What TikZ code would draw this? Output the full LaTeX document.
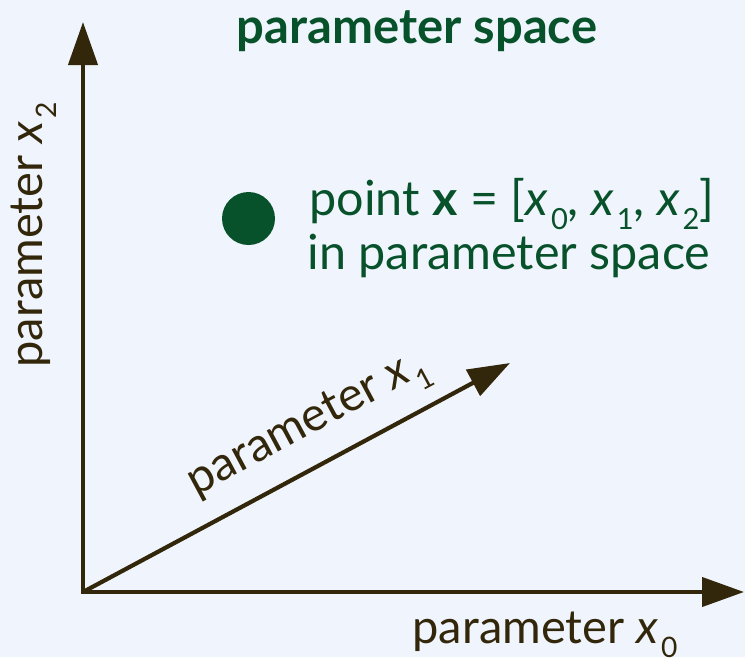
\documentclass[tikz,border=0pt]{standalone}
\usepackage{fontspec}
\setmainfont{Lato}
\usetikzlibrary{arrows.meta}
\definecolor{bg}{HTML}{F0F5FD}
\definecolor{grn}{HTML}{08522B}
\definecolor{brn}{HTML}{33270B}
\newcommand{\vx}[1]{\textit{x}\kern0.06em\raisebox{-0.3em}{\scalebox{0.6}{#1}}}
\begin{document}
\begin{tikzpicture}[x=1pt,y=-1pt,
  axis/.style={draw=brn,line width=4.2pt},
  lbl/.style={text=brn,font=\fontsize{47}{56}\selectfont,inner sep=0pt},
  gtxt/.style={text=grn,font=\fontsize{48.5}{58}\selectfont,inner sep=0pt},
  ttl/.style={text=grn,font=\fontsize{49}{58}\selectfont\bfseries,inner sep=0pt}]
\fill[bg] (0,0) rectangle (745,657);
\useasboundingbox (0,0) rectangle (745,657);
\coordinate (O) at (83,592);
\coordinate (Y) at (83,22);
\coordinate (X) at (744,592);
\coordinate (D) at (510,363);
\draw[axis,{Triangle[length=43pt,width=29pt]}-{Triangle[length=42pt,width=29pt]}] (Y) -- (O) -- (X);
\draw[axis,-{Triangle[length=42pt,width=29pt]}] (O) -- (D);
\node[ttl,anchor=base] (title) at (417,43) {parameter space};
\node[circle,fill=grn,minimum size=53pt,inner sep=0pt] (pt) at (248.5,218.5) {};
\node[gtxt,anchor=base] (l1) at (512,215) {point \textbf{x} = [\vx{0}, \vx{1}, \vx{2}]};
\node[gtxt,anchor=base] (l2) at (509,269) {in parameter space};
\node[lbl,anchor=base] (lx0) at (545,643) {parameter \vx{0}};
\node[lbl,anchor=base,rotate=90] (lx2) at (42,235) {parameter \vx{2}};
\node[lbl,rotate=28.2] (lx1) at (309,426) {parameter \vx{1}};
\end{tikzpicture}
\end{document}
